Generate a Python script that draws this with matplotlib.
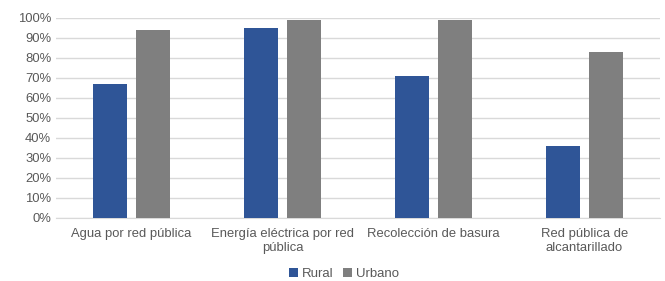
import matplotlib.pyplot as plt
import numpy as np
from matplotlib.ticker import PercentFormatter

categories = ["Agua por red pública", "Energía eléctrica por red\npública",
              "Recolección de basura", "Red pública de\nalcantarillado"]
rural = [67, 95, 71, 36]
urbano = [94, 99, 99, 83]

plt.rcParams['font.family'] = ['Liberation Sans', 'DejaVu Sans']
text_color = "#595959"

fig = plt.figure(figsize=(6.65, 2.81), dpi=100)
ax = fig.add_axes([56 / 665, 1 - 218 / 281, 604 / 665, 200 / 281])

x = np.arange(len(categories))
w = 0.225
gap = 0.066
ax.bar(x - (w + gap) / 2, rural, w, color="#2f5597", label="Rural", zorder=3)
ax.bar(x + (w + gap) / 2, urbano, w, color="#7f7f7f", label="Urbano", zorder=3)

ax.set_xlim(-0.5, len(categories) - 0.5)
ax.set_ylim(0, 100)
ax.set_yticks(np.arange(0, 101, 10))
ax.yaxis.set_major_formatter(PercentFormatter(decimals=0))
ax.set_xticks(x)
ax.set_xticklabels(categories)
ax.grid(axis="y", color="#d9d9d9", linewidth=1, zorder=0)
for s in ["top", "right", "left"]:
    ax.spines[s].set_visible(False)
ax.spines["bottom"].set_color("#d9d9d9")
ax.tick_params(axis="both", length=0, labelsize=9.4, colors=text_color)
ax.tick_params(axis="x", pad=7)

leg = fig.legend(loc="center", bbox_to_anchor=(344 / 665, 1 - 274 / 281), ncol=2,
                 frameon=False, fontsize=9.5, handlelength=0.7, handleheight=0.7,
                 handletextpad=0.3, columnspacing=0.7, borderpad=0.1)
for t in leg.get_texts():
    t.set_color(text_color)

fig.savefig("out.png", dpi=100)
